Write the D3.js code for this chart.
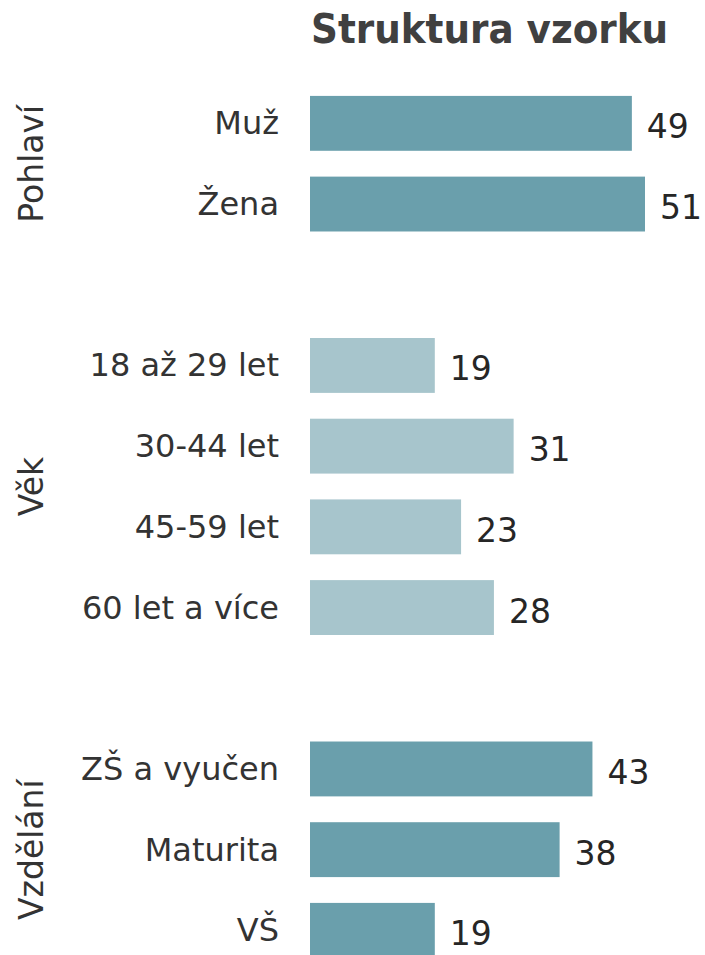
<!DOCTYPE html>
<html>
<head>
<meta charset="utf-8">
<script src="https://cdn.jsdelivr.net/npm/d3@7"></script>
<style>
  body { margin: 0; background: #fff; }
  text { font-family: "DejaVu Sans", Verdana, sans-serif; }
</style>
</head>
<body>
<div id="container"></div>
<script>
var categories = ["Muž", "Žena", "18 až 29 let", "30-44 let", "45-59 let", "60 let a více", "ZŠ a vyučen", "Maturita", "VŠ"];
var values = [49, 51, 19, 31, 23, 28, 43, 38, 19];
var groupOf = ["Pohlaví", "Pohlaví", "Věk", "Věk", "Věk", "Věk", "Vzdělání", "Vzdělání", "Vzdělání"];
var groups = ["Pohlaví", "Věk", "Vzdělání"];
// slots in the band scale, empty slots separate the groups
var slots = ["Muž", "Žena", "gap1", "18 až 29 let", "30-44 let", "45-59 let", "60 let a více", "gap2", "ZŠ a vyučen", "Maturita", "VŠ"];

var colors = { "Pohlaví": "#6a9fac", "Věk": "#a7c5cc", "Vzdělání": "#6a9fac" };

var width = 705, height = 955;

var svg = d3.select("#container").append("svg")
    .attr("width", width)
    .attr("height", height);

var x = d3.scaleLinear().domain([0, 51]).range([310, 645]);
var y = d3.scaleBand().domain(slots).range([83, 970.7]).paddingInner(0.32).paddingOuter(0.16);

var data = categories.map(function(c, i) {
    return { cat: c, value: values[i], group: groupOf[i] };
});

svg.append("text")
    .attr("x", 311)
    .attr("y", 43)
    .style("font-family", "'DejaVu Sans Condensed', 'DejaVu Sans', sans-serif")
    .style("font-weight", "bold")
    .style("font-size", "41.5px")
    .style("fill", "#404040")
    .text("Struktura vzorku");

// bars
svg.selectAll("rect.bar")
    .data(data)
    .enter()
    .append("rect")
    .attr("class", "bar")
    .attr("x", x(0))
    .attr("y", function(d) { return y(d.cat); })
    .attr("width", function(d) { return x(d.value) - x(0); })
    .attr("height", y.bandwidth())
    .style("fill", function(d) { return colors[d.group]; });

// category labels
svg.selectAll("text.cat")
    .data(data)
    .enter()
    .append("text")
    .attr("class", "cat")
    .attr("x", 279)
    .attr("y", function(d) { return y(d.cat) + y.bandwidth() / 2 + 11; })
    .attr("text-anchor", "end")
    .style("font-size", "32px")
    .style("fill", "#333")
    .text(function(d) { return d.cat; });

// value labels
svg.selectAll("text.val")
    .data(data)
    .enter()
    .append("text")
    .attr("class", "val")
    .attr("x", function(d) { return x(d.value) + 15; })
    .attr("y", function(d) { return y(d.cat) + y.bandwidth() / 2 + 15; })
    .style("font-size", "33px")
    .style("fill", "#262626")
    .text(function(d) { return d.value; });

// group labels, rotated
svg.selectAll("text.grp")
    .data(groups)
    .enter()
    .append("text")
    .attr("class", "grp")
    .attr("transform", function(g) {
        var members = data.filter(function(d) { return d.group == g; });
        var top = y(members[0].cat);
        var bottom = y(members[members.length - 1].cat) + y.bandwidth();
        return "translate(43," + ((top + bottom) / 2) + ") rotate(-90)";
    })
    .attr("text-anchor", "middle")
    .style("font-size", "33px")
    .style("fill", "#333")
    .text(function(g) { return g; });
</script>
</body>
</html>
